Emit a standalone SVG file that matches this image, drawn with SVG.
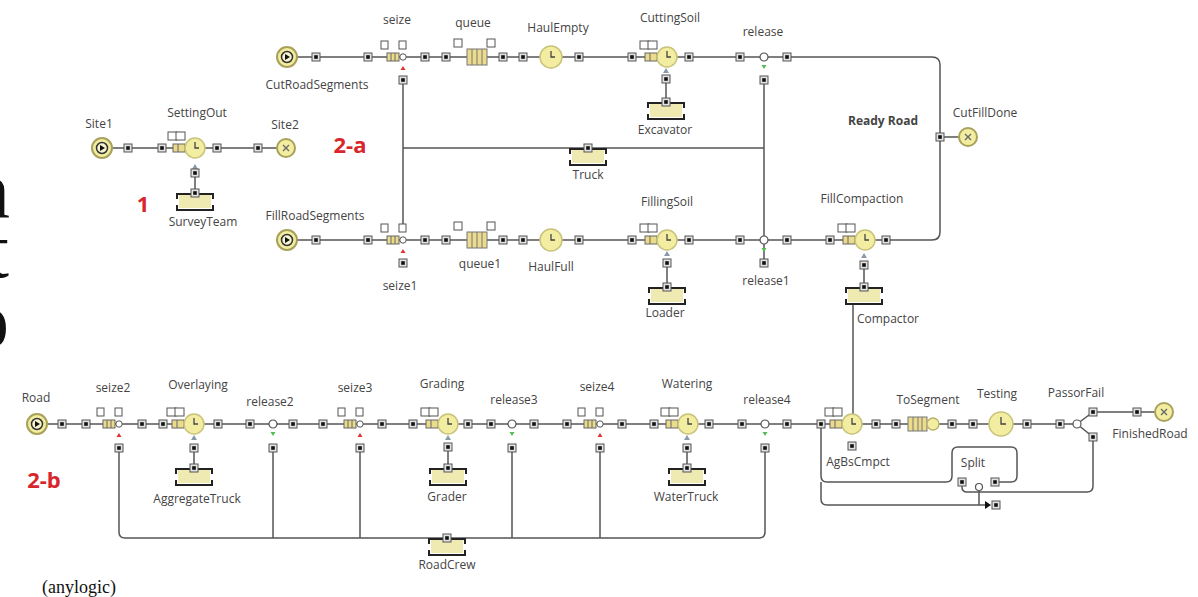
<svg xmlns="http://www.w3.org/2000/svg" xmlns:xlink="http://www.w3.org/1999/xlink" width="1198" height="597" viewBox="0 0 1198 597">
<style>
.ln{fill:none;stroke:#555;stroke-width:1.5}
.lb{font-family:"Open Sans","Liberation Sans",sans-serif;font-size:12px;fill:#444;text-anchor:middle}
.rd{font-family:"Open Sans","Liberation Sans",sans-serif;font-size:22px;font-weight:bold;fill:#d8262c;text-anchor:middle}
.big{font-family:"Liberation Serif",serif;font-size:80px;fill:#111;text-anchor:end}
</style>
<defs>
<g id="port"><rect x="-4" y="-4" width="8" height="8" fill="#e2e2e2" stroke="#555" stroke-width="1"/><rect x="-1.8" y="-1.8" width="3.6" height="3.6" fill="#111"/></g>
<g id="src"><circle r="10" fill="#f2eda0" stroke="#a9a15a" stroke-width="2"/><circle r="5.5" fill="#f7f4cf" stroke="#333" stroke-width="1.5"/><path d="M-2,-3L3,0L-2,3Z" fill="#111"/></g>
<g id="sink"><circle r="9" fill="#f2eda0" stroke="#a9a15a" stroke-width="2"/><path d="M-3,-3L3,3M3,-3L-3,3" stroke="#666" stroke-width="1.3"/></g>
<g id="clock"><circle r="10" fill="#f2eda0" stroke="#c9c27a" stroke-width="1.5"/><path d="M0,-6V0H4" fill="none" stroke="#444" stroke-width="1.3"/></g>
<g id="seize"><rect x="-22" y="-16" width="7" height="8" fill="#fff" stroke="#555"/><rect x="-4" y="-16" width="7" height="8" fill="#fff" stroke="#555"/><rect x="-16" y="-4" width="12" height="8" fill="#eadc8c" stroke="#666"/><path d="M-12,-4V4M-8,-4V4" stroke="#666"/><circle r="3.2" fill="#fff" stroke="#555"/></g>
<g id="svc"><rect x="-27" y="-16" width="9" height="8" fill="#fff" stroke="#555"/><rect x="-19" y="-16" width="9" height="8" fill="#fff" stroke="#555"/><rect x="-22" y="-4" width="12" height="8" fill="#eadc8c" stroke="#666"/><path d="M-17,-4V4" stroke="#666"/><use href="#clock"/></g>
<g id="queue"><rect x="-23" y="-18" width="8" height="8" fill="#fff" stroke="#555"/><rect x="10" y="-18" width="8" height="8" fill="#fff" stroke="#555"/><rect x="-10" y="-8" width="20" height="16" fill="#eadc8c" stroke="#777"/><path d="M-5,-8V8M0,-8V8M5,-8V8" stroke="#777"/></g>
<g id="rel"><circle r="4" fill="#fff" stroke="#555" stroke-width="1.2"/></g>
<g id="pool"><rect x="-16" y="2" width="32" height="13" fill="#efe9b2"/><path d="M-18,6V1H18V6M-18,12V17H18V12" fill="none" stroke="#222" stroke-width="2"/><use href="#port"/></g>
<path id="tr" d="M-2.5,3L2.5,3L0,-1Z" fill="#d33"/>
<path id="tg" d="M-2.5,-1L2.5,-1L0,3Z" fill="#5b5"/>
<path id="tb" d="M-3,3L3,3L0,-2Z" fill="#8a9aaa"/>
</defs>

<text class="big" x="10" y="217">n</text>
<text class="big" x="9" y="277">t</text>
<text class="big" x="9" y="347" font-weight="bold">o</text>

<g id="connectors">
<path class="ln" d="M102,148H286"/>
<path class="ln" d="M195,173V193"/>
<path class="ln" d="M287,57H932Q940,57 940,65V232Q940,240 932,240H287"/>
<path class="ln" d="M940,137H968"/>
<path class="ln" d="M403,80V232"/>
<path class="ln" d="M403,148H764"/>
<path class="ln" d="M764,80V263"/>
<path class="ln" d="M666,79V102"/>
<path class="ln" d="M667,263V287"/>
<path class="ln" d="M864,265V287"/>
<path class="ln" d="M853,304V416"/>
<path class="ln" d="M37,424H1077"/>
<path class="ln" d="M1077,424L1093,412M1077,424L1093,437M1093,412H1164"/>
<path class="ln" d="M194,448V468M448,447V468M687,448V468"/>
<path class="ln" d="M119,448V532Q119,538 125,538H759Q765,538 765,532V448"/>
<path class="ln" d="M273,448V538M360,448V538M512,448V538M600,448V538"/>
<path class="ln" d="M821,424V476Q821,482 827,482H946Q952,482 952,476V453Q952,447 958,447H1011Q1017,447 1017,453V476Q1017,482 1011,482H995"/>
<path class="ln" d="M962,482V487Q962,492 967,492H1087Q1093,492 1093,486V437"/>
<path class="ln" d="M821,482V499Q821,505 827,505H986M979,488V505"/>
</g>

<g id="n-site1"><use href="#src" x="102" y="148"/><use href="#port" x="128" y="148"/><text class="lb" x="99" y="128">Site1</text></g>
<g id="n-settingout"><use href="#port" x="162" y="148"/><use href="#svc" x="195" y="148"/><use href="#tb" x="195" y="166"/><use href="#port" x="195" y="173"/><use href="#port" x="217" y="148"/><text class="lb" x="197" y="117">SettingOut</text></g>
<g id="n-surveyteam"><use href="#pool" x="195" y="193"/><text class="lb" x="203" y="226">SurveyTeam</text></g>
<g id="n-site2"><use href="#port" x="258" y="148"/><use href="#sink" x="286" y="148"/><text class="lb" x="285" y="129">Site2</text></g>
<text class="rd" x="143" y="212">1</text>
<text class="rd" x="350" y="153">2-a</text>

<g id="n-cutroad"><use href="#src" x="287" y="57"/><use href="#port" x="316" y="57"/><text class="lb" x="317" y="89">CutRoadSegments</text></g>
<g id="n-seize"><use href="#port" x="368" y="57"/><use href="#seize" x="403" y="57"/><use href="#tr" x="403" y="67"/><use href="#port" x="403" y="80"/><use href="#port" x="425" y="57"/><text class="lb" x="397" y="24">seize</text></g>
<g id="n-queue"><use href="#port" x="446" y="57"/><use href="#queue" x="477" y="57"/><use href="#port" x="503" y="57"/><text class="lb" x="473" y="27">queue</text></g>
<g id="n-haulempty"><use href="#port" x="523" y="57"/><circle cx="551" cy="57" r="11" fill="#f2eda0" stroke="#c9c27a" stroke-width="1.5"/><path d="M551,51V57H555" fill="none" stroke="#444" stroke-width="1.3"/><use href="#port" x="579" y="57"/><text class="lb" x="558" y="32">HaulEmpty</text></g>
<g id="n-cuttingsoil"><use href="#port" x="632" y="57"/><use href="#svc" x="667" y="57"/><use href="#tb" x="666" y="70"/><use href="#port" x="666" y="79"/><use href="#port" x="689" y="57"/><text class="lb" x="670" y="22">CuttingSoil</text></g>
<g id="n-excavator"><use href="#pool" x="666" y="102"/><text class="lb" x="665" y="134">Excavator</text></g>
<g id="n-release"><use href="#port" x="740" y="57"/><use href="#rel" x="764" y="57"/><use href="#tg" x="764" y="66"/><use href="#port" x="764" y="80"/><use href="#port" x="787" y="57"/><text class="lb" x="763" y="36">release</text></g>
<g id="n-truck"><use href="#pool" x="588" y="148"/><text class="lb" x="588" y="179">Truck</text></g>
<g id="n-cutfilldone"><use href="#port" x="940" y="137"/><use href="#sink" x="968" y="137"/><text class="lb" x="985" y="117">CutFillDone</text><text class="lb" x="883" y="125" font-size="10" font-weight="bold">Ready Road</text></g>

<g id="n-fillroad"><use href="#src" x="287" y="240"/><use href="#port" x="316" y="240"/><text class="lb" x="315" y="220">FillRoadSegments</text></g>
<g id="n-seize1"><use href="#port" x="368" y="240"/><use href="#seize" x="403" y="240"/><use href="#tr" x="403" y="250"/><use href="#port" x="403" y="263"/><use href="#port" x="425" y="240"/><text class="lb" x="400" y="290">seize1</text></g>
<g id="n-queue1"><use href="#port" x="446" y="240"/><use href="#queue" x="477" y="240"/><use href="#port" x="503" y="240"/><text class="lb" x="480" y="268">queue1</text></g>
<g id="n-haulfull"><use href="#port" x="523" y="240"/><circle cx="551" cy="240" r="11" fill="#f2eda0" stroke="#c9c27a" stroke-width="1.5"/><path d="M551,234V240H555" fill="none" stroke="#444" stroke-width="1.3"/><use href="#port" x="579" y="240"/><text class="lb" x="551" y="271">HaulFull</text></g>
<g id="n-fillingsoil"><use href="#port" x="632" y="240"/><use href="#svc" x="667" y="240"/><use href="#tb" x="667" y="253"/><use href="#port" x="667" y="263"/><use href="#port" x="689" y="240"/><text class="lb" x="667" y="206">FillingSoil</text></g>
<g id="n-loader"><use href="#pool" x="667" y="287"/><text class="lb" x="665" y="317">Loader</text></g>
<g id="n-release1"><use href="#port" x="740" y="240"/><use href="#rel" x="764" y="240"/><use href="#tg" x="764" y="249"/><use href="#port" x="764" y="263"/><use href="#port" x="787" y="240"/><text class="lb" x="766" y="285">release1</text></g>
<g id="n-fillcompaction"><use href="#port" x="830" y="240"/><use href="#svc" x="865" y="240"/><use href="#tb" x="864" y="255"/><use href="#port" x="864" y="265"/><use href="#port" x="886" y="240"/><text class="lb" x="862" y="203">FillCompaction</text></g>
<g id="n-compactor"><use href="#pool" x="864" y="287"/><text class="lb" x="888" y="323">Compactor</text></g>

<g id="n-road"><use href="#src" x="37" y="424"/><use href="#port" x="62" y="424"/><text class="lb" x="36" y="402">Road</text></g>
<text class="rd" x="44" y="488">2-b</text>
<g id="n-seize2"><use href="#port" x="86" y="424"/><use href="#seize" x="119" y="424"/><use href="#tr" x="119" y="434"/><use href="#port" x="119" y="448"/><use href="#port" x="142" y="424"/><text class="lb" x="113" y="392">seize2</text></g>
<g id="n-overlaying"><use href="#port" x="163" y="424"/><use href="#svc" x="194" y="424"/><use href="#tb" x="194" y="437"/><use href="#port" x="194" y="448"/><use href="#port" x="218" y="424"/><text class="lb" x="198" y="389">Overlaying</text></g>
<g id="n-aggregatetruck"><use href="#pool" x="194" y="468"/><text class="lb" x="197" y="503">AggregateTruck</text></g>
<g id="n-release2"><use href="#port" x="250" y="424"/><use href="#rel" x="273" y="424"/><use href="#tg" x="273" y="433"/><use href="#port" x="273" y="448"/><use href="#port" x="293" y="424"/><text class="lb" x="270" y="406">release2</text></g>
<g id="n-seize3"><use href="#port" x="323" y="424"/><use href="#seize" x="360" y="424"/><use href="#tr" x="360" y="434"/><use href="#port" x="360" y="448"/><use href="#port" x="382" y="424"/><text class="lb" x="355" y="392">seize3</text></g>
<g id="n-grading"><use href="#port" x="413" y="424"/><use href="#svc" x="448" y="424"/><use href="#tb" x="448" y="437"/><use href="#port" x="448" y="447"/><use href="#port" x="468" y="424"/><text class="lb" x="442" y="388">Grading</text></g>
<g id="n-grader"><use href="#pool" x="448" y="468"/><text class="lb" x="447" y="501">Grader</text></g>
<g id="n-release3"><use href="#port" x="491" y="424"/><use href="#rel" x="512" y="424"/><use href="#tg" x="512" y="433"/><use href="#port" x="512" y="448"/><use href="#port" x="534" y="424"/><text class="lb" x="514" y="404">release3</text></g>
<g id="n-seize4"><use href="#port" x="567" y="424"/><use href="#seize" x="600" y="424"/><use href="#tr" x="600" y="434"/><use href="#port" x="600" y="448"/><use href="#port" x="622" y="424"/><text class="lb" x="597" y="391">seize4</text></g>
<g id="n-watering"><use href="#port" x="654" y="424"/><use href="#svc" x="688" y="424"/><use href="#tb" x="687" y="437"/><use href="#port" x="687" y="448"/><use href="#port" x="709" y="424"/><text class="lb" x="687" y="388">Watering</text></g>
<g id="n-watertruck"><use href="#pool" x="687" y="468"/><text class="lb" x="686" y="501">WaterTruck</text></g>
<g id="n-release4"><use href="#port" x="742" y="424"/><use href="#rel" x="765" y="424"/><use href="#tg" x="765" y="433"/><use href="#port" x="765" y="448"/><use href="#port" x="787" y="424"/><text class="lb" x="767" y="404">release4</text></g>
<g id="n-roadcrew"><use href="#pool" x="447" y="538"/><text class="lb" x="447" y="569">RoadCrew</text></g>
<g id="n-agbscmpct"><use href="#port" x="821" y="424"/><use href="#svc" x="852" y="424"/><use href="#port" x="852" y="446"/><use href="#port" x="876" y="424"/><text class="lb" x="858" y="466">AgBsCmpct</text></g>
<g id="n-tosegment"><use href="#port" x="896" y="424"/><rect x="908" y="417" width="19" height="14" fill="#eadc8c" stroke="#777"/><path d="M913,417V431M918,417V431M922,417V431" stroke="#777"/><circle cx="933" cy="424" r="6" fill="#f2eda0" stroke="#b9b26a" stroke-width="1.3"/><use href="#port" x="952" y="424"/><text class="lb" x="928" y="404">ToSegment</text></g>
<g id="n-testing"><use href="#port" x="973" y="424"/><circle cx="1001" cy="424" r="12" fill="#f2eda0" stroke="#c9c27a" stroke-width="1.5"/><path d="M1001,417V424H1006" fill="none" stroke="#444" stroke-width="1.3"/><use href="#port" x="1027" y="424"/><text class="lb" x="997" y="398">Testing</text></g>
<g id="n-passorfail"><use href="#port" x="1060" y="424"/><circle cx="1077" cy="424" r="4" fill="#fff" stroke="#555" stroke-width="1.2"/><use href="#port" x="1093" y="412"/><use href="#port" x="1093" y="437"/><text class="lb" x="1076" y="397">PassorFail</text></g>
<g id="n-finishedroad"><use href="#port" x="1137" y="412"/><use href="#sink" x="1164" y="412"/><text class="lb" x="1150" y="438">FinishedRoad</text></g>
<g id="n-split"><text class="lb" x="973" y="467">Split</text><use href="#port" x="962" y="482"/><use href="#port" x="995" y="482"/><circle cx="979" cy="487" r="3.5" fill="#fff" stroke="#555" stroke-width="1.2"/><path d="M985,501L991,505L985,509Z" fill="#111"/><use href="#port" x="996" y="505"/></g>

<text x="42" y="593" font-family="Liberation Serif, serif" font-size="18" fill="#111">(anylogic)</text>
</svg>
